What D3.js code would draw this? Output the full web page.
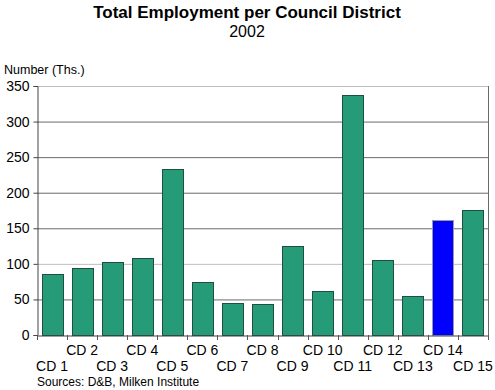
<!DOCTYPE html>
<html>
<head>
<meta charset="utf-8">
<script src="https://cdn.jsdelivr.net/npm/d3@7"></script>
<style>
  body { margin: 0; background: #fff; }
  svg { display: block; font-family: "Liberation Sans", Arial, sans-serif; }
</style>
</head>
<body>
<script>
// chart data
const districts = ['CD 1', 'CD 2', 'CD 3', 'CD 4', 'CD 5', 'CD 6', 'CD 7', 'CD 8',
  'CD 9', 'CD 10', 'CD 11', 'CD 12', 'CD 13', 'CD 14', 'CD 15'];
const employment = [86, 94, 103, 108, 234, 74, 45, 43, 125, 62, 338, 105, 55, 162, 176];
const highlight = 'CD 14';
const yTicks = [0, 50, 100, 150, 200, 250, 300, 350];

const width = 495;
const height = 390;
const margin = { top: 86, right: 7, bottom: 55, left: 37 };

const svg = d3.select('body').append('svg')
  .attr('width', width)
  .attr('height', height);

const x = d3.scaleBand()
  .domain(districts)
  .range([margin.left, width - margin.right])
  .paddingInner(0.3)
  .paddingOuter(0.15);

const y = d3.scaleLinear()
  .domain([0, 350])
  .range([height - margin.bottom, margin.top]);

// titles
svg.append('text')
  .attr('x', 247).attr('y', 18)
  .attr('text-anchor', 'middle')
  .attr('font-size', 17).attr('font-weight', 'bold')
  .text('Total Employment per Council District');

svg.append('text')
  .attr('x', 247).attr('y', 37)
  .attr('text-anchor', 'middle')
  .attr('font-size', 16)
  .text('2002');

svg.append('text')
  .attr('x', 4).attr('y', 74)
  .attr('font-size', 12.5)
  .text('Number (Ths.)');

// gridlines
svg.append('g').selectAll('line')
  .data(yTicks.filter(d => d > 0))
  .enter().append('line')
  .attr('x1', margin.left).attr('x2', width - margin.right)
  .attr('y1', d => y(d) + 0.5).attr('y2', d => y(d) + 0.5)
  .attr('stroke', d => (d === 100 || d === 350) ? '#bdbdbd' : '#6a6a6a')
  .attr('stroke-width', 1);

// right border
svg.append('line')
  .attr('x1', width - margin.right + 0.5).attr('x2', width - margin.right + 0.5)
  .attr('y1', y(350)).attr('y2', y(0))
  .attr('stroke', '#6a6a6a');

// bars
svg.append('g').selectAll('rect')
  .data(districts)
  .enter().append('rect')
  .attr('x', d => Math.round(x(d)) + 0.5)
  .attr('y', (d, i) => Math.round(y(employment[i])) + 0.5)
  .attr('width', Math.round(x.bandwidth()))
  .attr('height', (d, i) => Math.round(y(0)) - Math.round(y(employment[i])))
  .attr('fill', d => d === highlight ? '#0000ff' : '#269b78')
  .attr('stroke', d => d === highlight ? '#9a9a9a' : '#1f4f3f')
  .attr('stroke-width', 1);

// y axis
const yAxis = svg.append('g')
  .attr('transform', `translate(${margin.left + 0.5},0)`)
  .call(d3.axisLeft(y).tickValues(yTicks).tickSize(4).tickPadding(4));
yAxis.select('.domain').attr('stroke', '#444');
yAxis.selectAll('.tick line').attr('stroke', '#444');
yAxis.selectAll('.tick text')
  .attr('font-size', 14).attr('fill', '#000')
  .attr('font-family', '"Liberation Sans", Arial, sans-serif');

// x axis
const xAxis = svg.append('g')
  .attr('transform', `translate(0,${y(0) + 0.5})`)
  .call(d3.axisBottom(x).tickSize(0).tickFormat(''));
xAxis.select('.domain').attr('stroke', '#444');

// tick marks between categories
svg.append('g').selectAll('line')
  .data(d3.range(districts.length + 1))
  .enter().append('line')
  .attr('x1', i => Math.round(margin.left + i * (width - margin.right - margin.left) / districts.length) + 0.5)
  .attr('x2', i => Math.round(margin.left + i * (width - margin.right - margin.left) / districts.length) + 0.5)
  .attr('y1', y(0)).attr('y2', y(0) + 5)
  .attr('stroke', '#555');

// staggered category labels
svg.append('g').selectAll('text')
  .data(districts)
  .enter().append('text')
  .attr('x', d => x(d) + x.bandwidth() / 2)
  .attr('y', (d, i) => i % 2 === 0 ? 371 : 355)
  .attr('text-anchor', 'middle')
  .attr('font-size', 14)
  .text(d => d);

svg.append('text')
  .attr('x', 37).attr('y', 386)
  .attr('font-size', 12)
  .text('Sources: D&B, Milken Institute');
</script>
</body>
</html>
